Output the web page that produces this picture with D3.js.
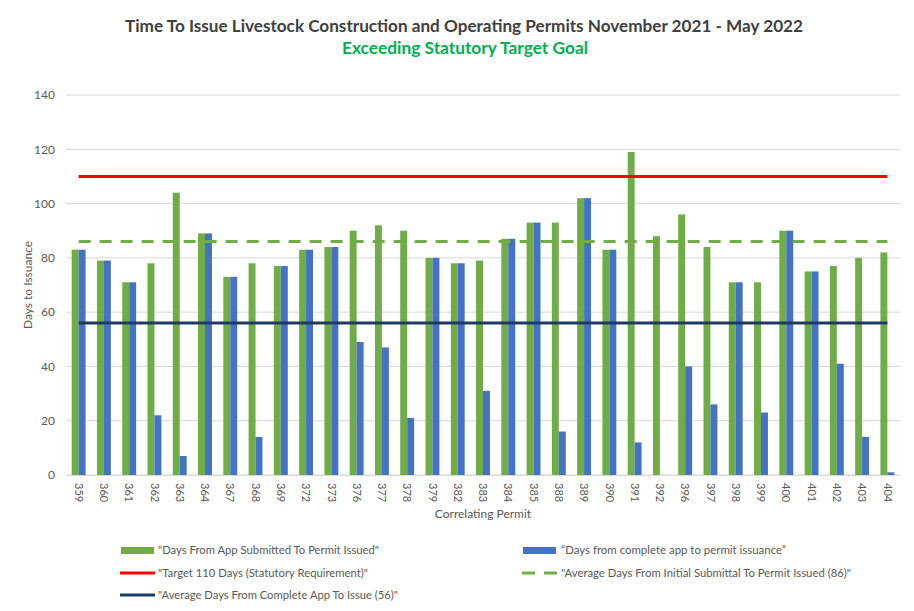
<!DOCTYPE html>
<html>
<head>
<meta charset="utf-8">
<script src="https://cdn.jsdelivr.net/npm/d3@7"></script>
<style>
  html, body { margin: 0; padding: 0; background: #fff; }
  svg { display: block; }
  text { font-family: Lato, "Open Sans", sans-serif; }
</style>
</head>
<body>
<svg id="chart" width="914" height="611"></svg>
<script>
const categories = ["359","360","361","362","363","364","367","368","369","372","373","376","377","378","379","382","383","384","385","388","389","390","391","392","396","397","398","399","400","401","402","403","404"];
const daysFromSubmitted = [83,79,71,78,104,89,73,78,77,83,84,90,92,90,80,78,79,87,93,93,102,83,119,88,96,84,71,71,90,75,77,80,82];
const daysFromComplete = [83,79,71,22,7,89,73,14,77,83,84,49,47,21,80,78,31,87,93,16,102,83,12,0,40,26,71,23,90,75,41,14,1];
const targetDays = 110;
const avgSubmitted = 86;
const avgComplete = 56;
const yTicks = [0,20,40,60,80,100,120,140];
const titleText = "Time To Issue Livestock Construction and Operating Permits November 2021 - May 2022";
const subtitleText = "Exceeding Statutory Target Goal";
const xTitle = "Correlating Permit";
const yTitle = "Days to Issuance";
const legendLabels = [
  "\"Days From App Submitted To Permit Issued\"",
  "\u201CDays from complete app to permit issuance\u201D",
  "\"Target 110 Days (Statutory Requirement)\"",
  "\"Average Days From Initial Submittal To Permit Issued (86)\"",
  "\"Average Days From Complete App To Issue (56)\""
];

(function () {
const svg = d3.select("#chart");
const pLeft = 66, pRight = 900, pTop = 95, pBottom = 475;
const textColor = "#595959";
const cGreen = "#70AD47", cBlue = "#4472C4", cRed = "#FF0000", cNavy = "#203864";

const x = d3.scaleBand().domain(categories).range([pLeft, pRight]).paddingInner(0.45).paddingOuter(0.225);
const xSub = d3.scaleBand().domain(["a","b"]).range([0, x.bandwidth()]);
const y = d3.scaleLinear().domain([0, 140]).range([pBottom, pTop]);

// gridlines
svg.append("g").selectAll("line").data(yTicks).join("line")
  .attr("x1", pLeft).attr("x2", pRight)
  .attr("y1", d => y(d)).attr("y2", d => y(d))
  .attr("stroke", "#d9d9d9").attr("stroke-width", 1);

// y axis labels
const yAxis = d3.axisLeft(y).tickValues(yTicks).tickSize(0).tickPadding(0);
const yg = svg.append("g").attr("transform", `translate(${pLeft - 11},0)`).call(yAxis);
yg.select(".domain").remove();
yg.selectAll("text").attr("fill", textColor).style("font-size", "12px").style("font-family", "Lato, sans-serif");

// bars
const groups = svg.append("g").selectAll("g").data(categories).join("g")
  .attr("transform", d => `translate(${x(d)},0)`);
groups.append("rect")
  .attr("x", xSub("a")).attr("width", xSub.bandwidth())
  .attr("y", (d, i) => y(daysFromSubmitted[i]))
  .attr("height", (d, i) => y(0) - y(daysFromSubmitted[i]))
  .attr("fill", cGreen);
groups.append("rect")
  .attr("x", xSub("b")).attr("width", xSub.bandwidth())
  .attr("y", (d, i) => y(daysFromComplete[i]))
  .attr("height", (d, i) => y(0) - y(daysFromComplete[i]))
  .attr("fill", cBlue);

// x axis
const xAxis = d3.axisBottom(x).tickSize(0).tickPadding(0);
const xg = svg.append("g").attr("transform", `translate(0,${pBottom})`).call(xAxis);
xg.select(".domain").attr("stroke", "#d9d9d9");
xg.selectAll("text")
  .attr("fill", textColor).style("font-size", "11px").style("font-family", "Lato, sans-serif")
  .attr("text-anchor", "start").attr("dy", "0.35em")
  .attr("transform", "translate(0,8) rotate(90)")
  .attr("y", 0).attr("x", 0);

// reference lines
const lx1 = x(categories[0]) + x.bandwidth() / 2;
const lx2 = x(categories[categories.length - 1]) + x.bandwidth() / 2;
svg.append("line").attr("x1", lx1).attr("x2", lx2).attr("y1", y(targetDays)).attr("y2", y(targetDays))
  .attr("stroke", cRed).attr("stroke-width", 3);
svg.append("line").attr("x1", lx1).attr("x2", lx2).attr("y1", y(avgSubmitted)).attr("y2", y(avgSubmitted))
  .attr("stroke", cGreen).attr("stroke-width", 3).attr("stroke-dasharray", "12,9");
svg.append("line").attr("x1", lx1).attr("x2", lx2).attr("y1", y(avgComplete)).attr("y2", y(avgComplete))
  .attr("stroke", cNavy).attr("stroke-width", 3);

// titles
svg.append("text").attr("x", 464).attr("y", 32).attr("text-anchor", "middle")
  .attr("fill", "#404040").style("font-size", "17px").style("font-weight", "bold")
  .attr("textLength", 678).attr("lengthAdjust", "spacingAndGlyphs")
  .text(titleText);
svg.append("text").attr("x", 465).attr("y", 54).attr("text-anchor", "middle")
  .attr("fill", "#00B050").style("font-size", "17px").style("font-weight", "bold")
  .attr("textLength", 246).attr("lengthAdjust", "spacingAndGlyphs")
  .text(subtitleText);
svg.append("text").attr("x", 483).attr("y", 518).attr("text-anchor", "middle")
  .attr("fill", textColor).style("font-size", "12px").text(xTitle);
svg.append("text").attr("transform", "translate(32,285) rotate(-90)").attr("text-anchor", "middle")
  .attr("fill", textColor).style("font-size", "12px").text(yTitle);

// legend
const lg = svg.append("g").style("font-size", "11.5px");
function legendText(tx, ty, t, len) {
  lg.append("text").attr("x", tx).attr("y", ty).attr("dy", "0.35em").attr("fill", textColor)
    .attr("textLength", len).attr("lengthAdjust", "spacingAndGlyphs").text(t);
}
lg.append("rect").attr("x", 121).attr("y", 547).attr("width", 33).attr("height", 7).attr("fill", cGreen);
legendText(158, 550, legendLabels[0], 221);
lg.append("rect").attr("x", 523).attr("y", 547).attr("width", 33).attr("height", 7).attr("fill", cBlue);
legendText(561, 550, legendLabels[1], 225);
lg.append("line").attr("x1", 120).attr("x2", 155).attr("y1", 573).attr("y2", 573).attr("stroke", cRed).attr("stroke-width", 3);
legendText(158, 573, legendLabels[2], 210);
lg.append("line").attr("x1", 522).attr("x2", 557).attr("y1", 573).attr("y2", 573).attr("stroke", cGreen).attr("stroke-width", 3).attr("stroke-dasharray", "13,9");
legendText(561, 573, legendLabels[3], 290);
lg.append("line").attr("x1", 120).attr("x2", 155).attr("y1", 595).attr("y2", 595).attr("stroke", cNavy).attr("stroke-width", 3);
legendText(158, 595, legendLabels[4], 240);
})();
</script>
</body>
</html>
